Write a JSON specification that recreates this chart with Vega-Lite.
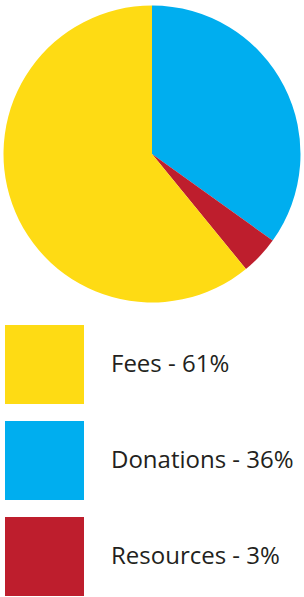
{
  "$schema": "https://vega.github.io/schema/vega-lite/v6.json",
  "width": 304,
  "height": 308,
  "padding": 0,
  "background": "white",
  "view": {"stroke": null},
  "data": {"values": [
    {"label": "Donations - 36%", "share": 34.9, "rank": 1},
    {"label": "Resources - 3%", "share": 4.2, "rank": 2},
    {"label": "Fees - 61%", "share": 60.9, "rank": 3}
  ]},
  "mark": {"type": "arc", "radius": 148.5, "stroke": null},
  "encoding": {
    "theta": {"field": "share", "type": "quantitative", "stack": true},
    "order": {"field": "rank", "type": "quantitative"},
    "color": {
      "field": "label",
      "type": "nominal",
      "scale": {
        "domain": ["Fees - 61%", "Donations - 36%", "Resources - 3%"],
        "range": ["#FEDB14", "#00AEEF", "#BE1E2D"]
      },
      "legend": {
        "title": null,
        "orient": "none",
        "legendX": 5,
        "legendY": 325,
        "direction": "vertical",
        "padding": 0,
        "symbolType": "square",
        "symbolSize": 6241,
        "symbolStrokeWidth": 0,
        "symbolOpacity": 1,
        "rowPadding": 17,
        "labelOffset": 27,
        "labelFont": "Open Sans",
        "labelFontSize": 24,
        "labelColor": "#231F20",
        "labelLimit": 300
      }
    }
  }
}
